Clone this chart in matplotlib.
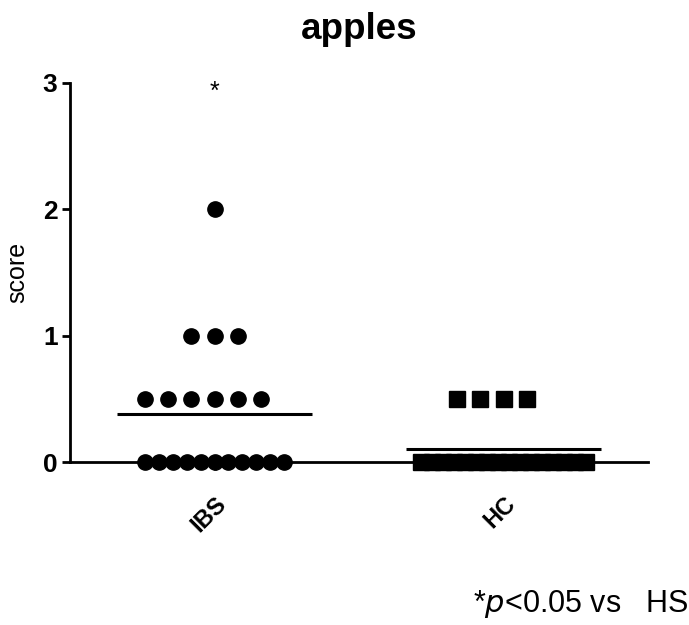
import matplotlib
matplotlib.use("Agg")
import matplotlib.pyplot as plt
import numpy as np

plt.rcParams['font.family'] = ['Liberation Sans', 'DejaVu Sans']

# Data
groups = ['IBS', 'HC']
ibs_scores = [0]*11 + [0.5]*6 + [1]*3 + [2]
hc_scores = [0]*16 + [0.5]*4
group_data = [ibs_scores, hc_scores]
group_markers = ['o', 's']
y_ticks = [0, 1, 2, 3]
sig_label = '*'


def scatter_offsets(values, spacing=0.08, max_width=0.5):
    # simple column scatter: points of equal value spread side by side
    vals = np.array(values, dtype=float)
    offs = np.zeros(len(vals))
    for v in np.unique(vals):
        idx = np.where(vals == v)[0]
        n = len(idx)
        step = spacing
        if (n - 1) * step > max_width:
            step = max_width / (n - 1)
        pos = (np.arange(n) - (n - 1) / 2.0) * step
        if n % 2 == 0 and step == spacing:
            pos = pos - step / 2.0
        offs[idx] = pos
    return offs


fig = plt.figure(figsize=(6.89, 6.25), dpi=100)
ax = fig.add_axes([0.1016, 0.2608, 0.8389, 0.6064])

for i, (vals, mk) in enumerate(zip(group_data, group_markers)):
    x = i + 1
    offs = scatter_offsets(vals, max_width=0.48 if i == 0 else 0.57)
    ax.plot(x + offs, vals, linestyle='none', marker=mk, color='black',
            markersize=11, clip_on=False, zorder=3)
    m = np.mean(vals)
    ax.plot([x - 0.337, x + 0.337], [m, m], color='black', lw=2.2,
            solid_capstyle='butt', zorder=4)

# significance star above IBS
ax.text(1, 2.93, sig_label, ha='center', va='center', fontsize=18)

ax.set_xlim(0.5, 2.5)
ax.set_ylim(0, 3)
ax.set_yticks(y_ticks)
ax.set_yticklabels([str(t) for t in y_ticks], fontsize=19, fontweight='bold')
ax.set_xticks([1, 2])
ax.set_xticklabels(groups, fontsize=17, fontweight='bold', rotation=45,
                   ha='right', rotation_mode='anchor')
ax.tick_params(axis='x', pad=16)
ax.set_ylabel('score', fontsize=18, labelpad=10)
ax.set_title('apples', fontsize=26.5, fontweight='bold', pad=32)

for s in ['top', 'right']:
    ax.spines[s].set_visible(False)
for s in ['left', 'bottom']:
    ax.spines[s].set_linewidth(2)
ax.tick_params(width=2, length=6, direction='out')
ax.tick_params(axis='y', pad=3)

fig.text(0.686, 0.02, r'*$\it{p}$<0.05 vs   HS', fontsize=22)

plt.savefig('out.png', dpi=100)
